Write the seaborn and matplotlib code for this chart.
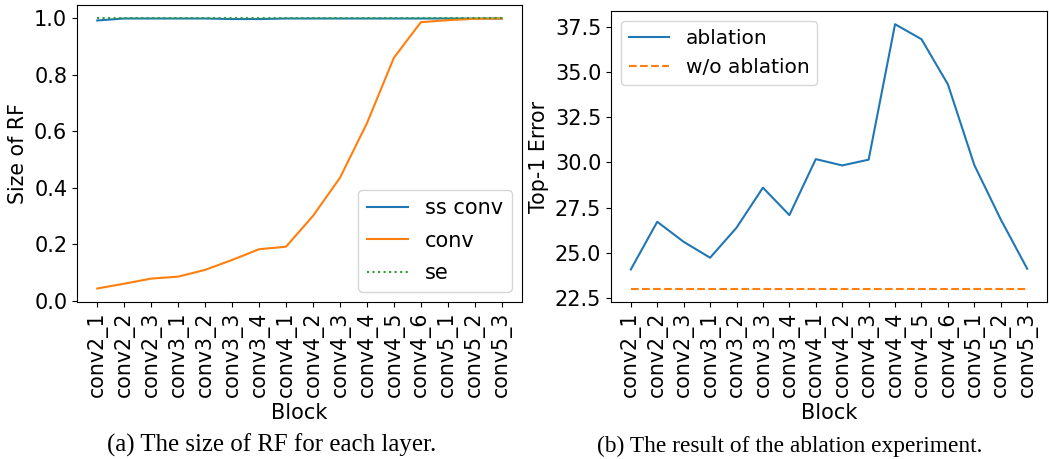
import numpy as np
import pandas as pd
import matplotlib
matplotlib.use("Agg")
import matplotlib.pyplot as plt
import seaborn as sns

blocks = ["conv2_1", "conv2_2", "conv2_3", "conv3_1", "conv3_2", "conv3_3", "conv3_4",
          "conv4_1", "conv4_2", "conv4_3", "conv4_4", "conv4_5", "conv4_6",
          "conv5_1", "conv5_2", "conv5_3"]

rf_ss_conv = [0.993, 1.0, 1.0, 1.0, 1.0, 0.998, 0.998, 1.0, 1.0, 1.0, 1.0, 1.0, 1.0, 1.0, 1.0, 1.0]
rf_conv = [0.044, 0.061, 0.079, 0.086, 0.110, 0.145, 0.183, 0.192, 0.301, 0.436,
           0.629, 0.861, 0.987, 0.994, 0.999, 1.0]
rf_se = [1.0] * 16

err_ablation = [24.07, 26.71, 25.60, 24.72, 26.38, 28.60, 27.08, 30.18, 29.83, 30.15,
                37.65, 36.82, 34.32, 29.85, 26.84, 24.11]
err_wo = [23.0] * 16

plt.rcParams['font.family'] = ['DejaVu Sans']

fig = plt.figure(figsize=(10.49, 4.59), dpi=100)
W, H = 1049, 459
def rect(l, r, t, b):
    return [l / W, 1 - b / H, (r - l) / W, (b - t) / H]

ax1 = fig.add_axes(rect(77, 522, 5, 302))
ax2 = fig.add_axes(rect(611, 1047, 11, 302))

df1 = pd.DataFrame({
    "Block": blocks * 3,
    "val": rf_ss_conv + rf_conv + rf_se,
    "kind": ["ss conv"] * 16 + ["conv"] * 16 + ["se"] * 16,
})
pal1 = {"ss conv": "#1f77b4", "conv": "#ff7f0e", "se": "#2ca02c"}
dash1 = {"ss conv": "", "conv": "", "se": (1, 1.65)}
sns.lineplot(data=df1, x="Block", y="val", hue="kind", style="kind",
             palette=pal1, dashes=dash1, linewidth=1.5, ax=ax1, sort=False)
ax1.set_ylabel("Size of RF", fontsize=14.8)
ax1.set_xlabel("Block", fontsize=15)
ax1.legend(loc="lower right", fontsize=15, title=None, labelspacing=0.6)

df2 = pd.DataFrame({
    "Block": blocks * 2,
    "val": err_ablation + err_wo,
    "kind": ["ablation"] * 16 + ["w/o ablation"] * 16,
})
pal2 = {"ablation": "#1f77b4", "w/o ablation": "#ff7f0e"}
dash2 = {"ablation": "", "w/o ablation": (3.7, 1.6)}
sns.lineplot(data=df2, x="Block", y="val", hue="kind", style="kind",
             palette=pal2, dashes=dash2, linewidth=1.5, ax=ax2, sort=False)
ax2.set_ylabel("Top-1 Error", fontsize=14.8)
ax2.set_xlabel("Block", fontsize=15)
ax2.set_yticks([22.5, 25.0, 27.5, 30.0, 32.5, 35.0, 37.5])
ax2.legend(loc="upper left", fontsize=14.5, title=None)

for ax in (ax1, ax2):
    ax.tick_params(axis="x", labelrotation=90, labelsize=14.8)
    ax.tick_params(axis="y", labelsize=15)
    ax.margins(x=0.05, y=0.05)

fig.text(272 / W, 1 - 452 / H, "(a) The size of RF for each layer.", ha="center", va="baseline",
         fontsize=17.9, family="Liberation Serif")
fig.text(790 / W, 1 - 452 / H, "(b) The result of the ablation experiment.", ha="center", va="baseline",
         fontsize=16.8, family="Liberation Serif")

fig.savefig("out.png", dpi=100)
